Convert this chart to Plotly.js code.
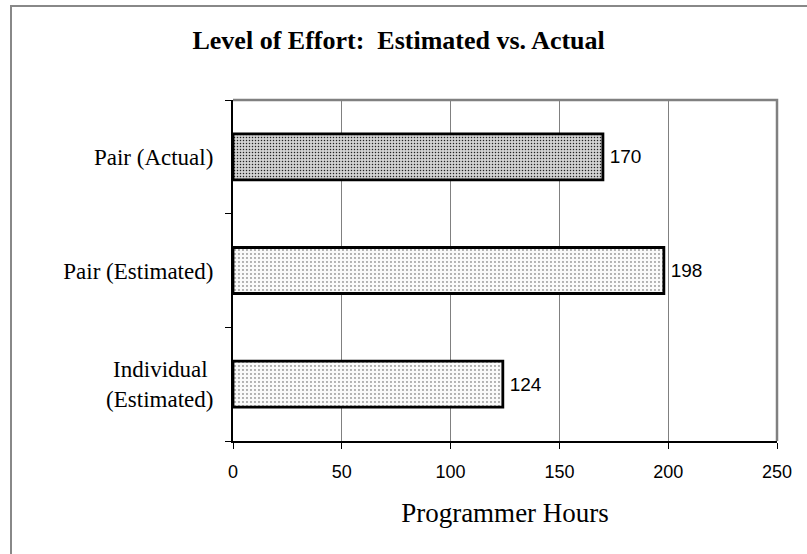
<!DOCTYPE html>
<html>
<head>
<meta charset="utf-8">
<script src="https://cdn.plot.ly/plotly-3.0.1.min.js"></script>
<style>html,body{margin:0;padding:0;background:#fff;}#chart{width:807px;height:554px;}</style>
</head>
<body>
<div id="chart"></div>
<script>
const categories = ["Individual\u00a0<br>(Estimated)", "Pair (Estimated)", "Pair (Actual)"];
const hours = [124, 198, 170];
const xTicks = [0, 50, 100, 150, 200, 250];

const L = 233, R = 30, T = 100, B = 113;
const W = 807, H = 554;
const pw = W - L - R, ph = H - T - B;
const px = v => (v - L) / pw;
const py = v => (H - B - v) / ph;

const trace = {
  type: 'bar',
  orientation: 'h',
  y: categories,
  x: hours,
  width: 0.405,
  text: hours.map(v => '\u2009' + v),
  textposition: 'outside',
  cliponaxis: false,
  textfont: {family: 'Liberation Sans, Arial, sans-serif', size: 19, color: '#000'},
  marker: {
    color: '#ffffff',
    line: {color: '#000', width: 2.8},
    pattern: {
      shape: ['.', '.', '.'],
      fgcolor: ['#444', '#444', '#222'],
      bgcolor: ['#fafafa', '#fafafa', '#d2d2d2'],
      size: [4, 4, 3],
      solidity: [0.1, 0.1, 0.2],
      fillmode: 'replace'
    }
  },
  hoverinfo: 'none'
};

const layout = {
  width: W, height: H,
  margin: {l: L, r: R, t: T, b: B, pad: 0},
  paper_bgcolor: '#fff',
  plot_bgcolor: '#fff',
  showlegend: false,
  title: {
    text: '<b>Level of Effort:  Estimated vs. Actual</b>',
    font: {family: 'Liberation Serif, Times New Roman, serif', size: 26, color: '#000'},
    x: 0.494, xanchor: 'center', y: 0.928, yanchor: 'middle'
  },
  xaxis: {
    range: [0, 250],
    tickvals: xTicks,
    ticktext: xTicks.map(String),
    showgrid: true, gridcolor: '#808080', gridwidth: 1,
    zeroline: false,
    showline: true, linecolor: '#000', linewidth: 2,
    ticks: 'outside', ticklen: 6, tickcolor: '#000', tickwidth: 1,
    ticklabelstandoff: 7,
    tickfont: {family: 'Liberation Sans, Arial, sans-serif', size: 18, color: '#000'},
    title: {text: 'Programmer Hours', font: {family: 'Liberation Serif, Times New Roman, serif', size: 27, color: '#000'}, standoff: 23},
    fixedrange: true
  },
  yaxis: {
    type: 'category',
    showgrid: false,
    zeroline: false,
    showline: true, linecolor: '#000', linewidth: 2,
    ticks: 'outside', tickson: 'boundaries', ticklen: 6, tickcolor: '#000', tickwidth: 1,
    tickfont: {family: 'Liberation Serif, Times New Roman, serif', size: 23, color: '#000'},
    ticklabelstandoff: 13,
    fixedrange: true
  },
  shapes: [
    {type: 'path', xref: 'paper', yref: 'paper', layer: 'below',
     path: 'M ' + px(L) + ' ' + py(T) + ' L ' + px(W - R) + ' ' + py(T) + ' L ' + px(W - R) + ' ' + py(H - B),
     line: {color: '#808080', width: 2.5}},
    {type: 'path', xref: 'paper', yref: 'paper', layer: 'above',
     path: 'M ' + px(11) + ' ' + py(H + 5) + ' L ' + px(11) + ' ' + py(6) + ' L ' + px(W + 5) + ' ' + py(6),
     line: {color: '#888888', width: 2}}
  ]
};

Plotly.newPlot('chart', [trace], layout, {displayModeBar: false, staticPlot: true});
</script>
</body>
</html>
